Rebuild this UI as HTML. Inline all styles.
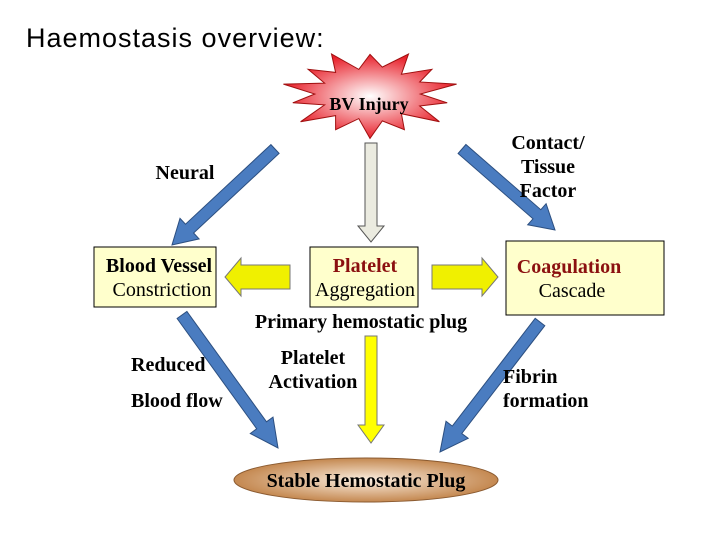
<!DOCTYPE html>
<html><head><meta charset="utf-8"><style>
body{margin:0;width:720px;height:540px;background:#fff;overflow:hidden}
svg{display:block}
.t{font-family:"Liberation Serif",serif;font-weight:bold;font-size:20px;fill:#000}
.n{font-family:"Liberation Serif",serif;font-size:20px;fill:#000}
</style></head><body>
<svg id="s" width="720" height="540" xmlns="http://www.w3.org/2000/svg">
<defs>
<radialGradient id="rg" cx="50%" cy="50%" r="50%"><stop offset="0" stop-color="#fff"/><stop offset="1" stop-color="#e8202a"/></radialGradient>
<radialGradient id="eg" cx="50%" cy="50%" r="50%"><stop offset="0" stop-color="#fbeee0"/><stop offset="1" stop-color="#c48850"/></radialGradient>
</defs>
<text x="26" y="47" font-family="Liberation Sans, sans-serif" font-size="27" letter-spacing="1" fill="#000">Haemostasis overview:</text>
<polygon id="star" fill="url(#rg)" stroke="#a01010" stroke-width="1"/>
<text x="369" y="110" class="t" text-anchor="middle" style="font-size:18px">BV Injury</text>
<g id="arrows"></g>
<rect x="94" y="247" width="122" height="60" fill="#ffffcc" stroke="#000"/>
<rect x="310" y="247" width="108" height="60" fill="#ffffcc" stroke="#000"/>
<rect x="506" y="241" width="158" height="74" fill="#ffffcc" stroke="#000"/>
<text x="159" y="272" class="t" text-anchor="middle">Blood Vessel</text>
<text x="162" y="296" class="n" text-anchor="middle">Constriction</text>
<text x="365" y="272" class="t" text-anchor="middle" style="fill:#8b1010">Platelet</text>
<text x="365" y="296" class="n" text-anchor="middle">Aggregation</text>
<text x="569" y="273" class="t" text-anchor="middle" style="fill:#8b1010">Coagulation</text>
<text x="572" y="297" class="n" text-anchor="middle">Cascade</text>
<text x="185" y="179" class="t" text-anchor="middle">Neural</text>
<text x="548" y="149" class="t" text-anchor="middle">Contact/</text>
<text x="548" y="173" class="t" text-anchor="middle">Tissue</text>
<text x="548" y="197" class="t" text-anchor="middle">Factor</text>
<text x="361" y="328" class="t" text-anchor="middle">Primary hemostatic plug</text>
<text x="131" y="371" class="t">Reduced</text>
<text x="131" y="407" class="t">Blood flow</text>
<text x="313" y="364" class="t" text-anchor="middle">Platelet</text>
<text x="313" y="388" class="t" text-anchor="middle">Activation</text>
<text x="503" y="383" class="t">Fibrin</text>
<text x="503" y="407" class="t">formation</text>
<ellipse cx="366" cy="480" rx="132" ry="22" fill="url(#eg)" stroke="#8a5a30"/>
<text x="366" y="487" class="t" text-anchor="middle">Stable  Hemostatic Plug</text>
</svg>
<script>
(function(){
var cx=370,cy=94,pts=[],n=14;
for(var i=0;i<n*2;i++){var a=-Math.PI/2+i*Math.PI/n;var r=i%2?(i%4==1?46:42):(i%4==0?66:74);pts.push((cx+r*1.2*Math.cos(a)).toFixed(1)+","+(cy+r*0.6*Math.sin(a)).toFixed(1));}
document.getElementById("star").setAttribute("points",pts.join(" "));
function arr(x1,y1,x2,y2,fill,stroke,sw,hw,hl){
var dx=x2-x1,dy=y2-y1,L=Math.hypot(dx,dy),ux=dx/L,uy=dy/L,px=-uy,py=ux;
var bx=x2-ux*hl,by=y2-uy*hl;
var p=[[x1+px*sw,y1+py*sw],[bx+px*sw,by+py*sw],[bx+px*hw,by+py*hw],[x2,y2],[bx-px*hw,by-py*hw],[bx-px*sw,by-py*sw],[x1-px*sw,y1-py*sw]];
var e=document.createElementNS("http://www.w3.org/2000/svg","polygon");
e.setAttribute("points",p.map(function(q){return q[0].toFixed(1)+","+q[1].toFixed(1)}).join(" "));
e.setAttribute("fill",fill);e.setAttribute("stroke",stroke);
document.getElementById("arrows").appendChild(e);}
var B="#4a7cc0",BS="#2c4f80";
arr(275,149,172,245,B,BS,6,14,24);
arr(462,149,555,230,B,BS,6,14,24);
arr(182,315,278,448,B,BS,6,14,28);
arr(540,322,440,452,B,BS,6,14,28);
arr(371,143,371,242,"#ebebe0","#555",6,13,16);
arr(371,336,371,443,"#ffff00","#777",6,13,18);
arr(290,277,225,277,"#f0f000","#777",12,19,16);
arr(432,277,498,277,"#f0f000","#777",12,19,16);
})();
</script>
</body></html>
